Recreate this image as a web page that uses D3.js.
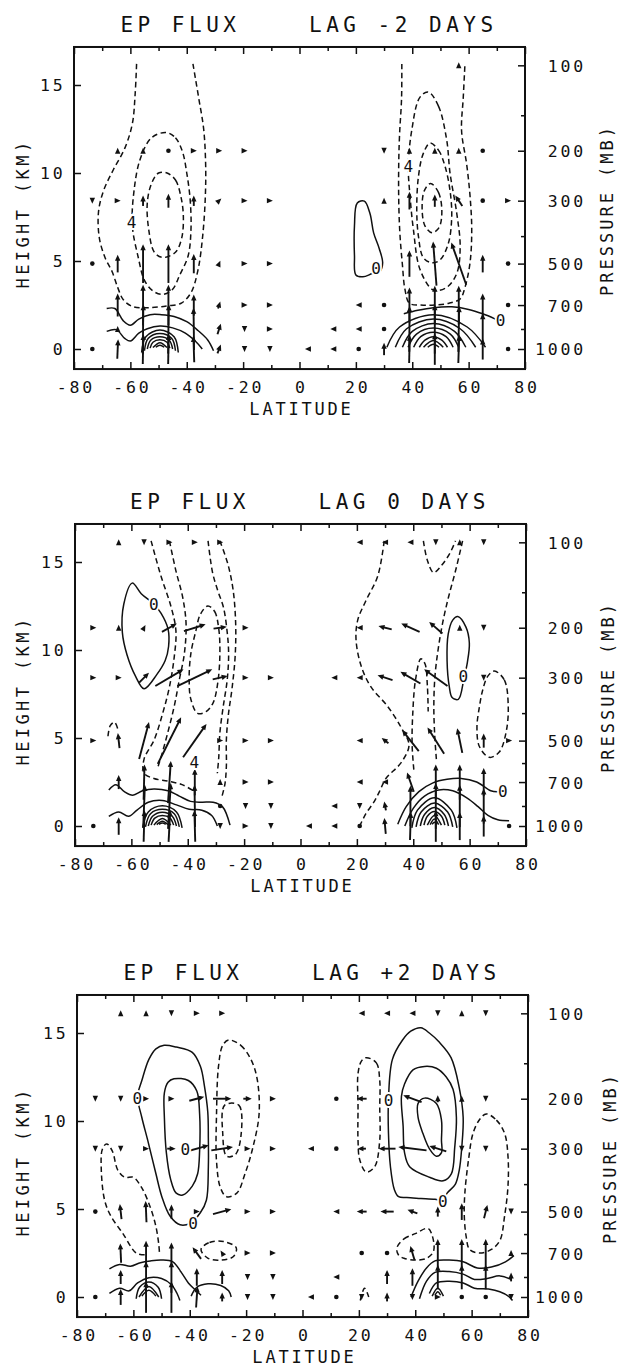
<!DOCTYPE html>
<html>
<head>
<meta charset="utf-8">
<script src="https://cdn.jsdelivr.net/npm/d3@7"></script>
<style>
  body { margin: 0; background: #fff; }
  svg text { font-family: "DejaVu Sans Mono", monospace; fill: #111; }
</style>
</head>
<body>
<div id="chart"></div>
<script>
// ---- grid arrows: [latitude, pressure (mb), horizontal comp (deg), vertical comp (km)] ----
var ARROWS_LAG_M2 = [
  [-73.5,1000,0,0],[-64.5,1000,0.3,1.1],[-55.5,1000,0.2,1.7],[-46.5,1000,0.2,1.7],[-37.5,1000,-0.3,1.5],[-28.5,1000,1.2,0.5],[-19.5,1000,0,-0.2],[-10.5,1000,0,-0.2],
  [3,1000,-0.9,0],[12,1000,-0.9,0],[21,1000,0,0],[30,1000,0,0.7],[39,1000,0.2,1.6],[48,1000,0,1.8],[56.5,1000,0.3,1.6],[65,1000,0,1.2],[74,1000,0,0],
  [-64.5,850,0,0.25],[-55.5,850,0.2,2.8],[-46.5,850,0.2,2.8],[-37.5,850,-0.2,2.4],[-28.5,850,1.2,0.6],[-19.5,850,0,-0.2],[-10.5,850,0.8,0],
  [12,850,-0.9,0],[21,850,-0.9,0],[30,850,0,0],[39,850,0.1,2.6],[48,850,0,2.8],[56.5,850,0.3,2.6],[65,850,0,1.8],
  [-64.5,700,0,1.3],[-55.5,700,0,2.3],[-46.5,700,0,2.3],[-37.5,700,0,1.2],[-28.5,700,0.8,0.4],[-19.5,700,0.8,0],[-10.5,700,0.8,0],
  [21,700,-0.8,0],[30,700,0,0],[39,700,0,2.0],[48,700,0,2.2],[56.5,700,0,2.2],[65,700,0,1.3],[74,700,0,0],
  [-73.5,500,0,0],[-64.5,500,0,1.0],[-55.5,500,0,2.2],[-46.5,500,0,2.2],[-37.5,500,0,1.1],[-28.5,500,0.8,0.3],[-19.5,500,0.8,0],[-10.5,500,0.8,0],
  [39,500,0,1.5],[48,500,-1.2,2.5],[56.5,500,-5.3,2.4],[65,500,0,1.0],[74,500,0,0],
  [-73.5,300,0,-0.15],[-64.5,300,0.7,0],[-55.5,300,0,0.6],[-46.5,300,0,0.8],[-37.5,300,0,0.6],[-28.5,300,1,0.15],[-19.5,300,0.8,0],[-10.5,300,0.8,0],
  [30,300,0,0.2],[39,300,0,1.0],[48,300,0,0.7],[56.5,300,-2.5,0.6],[65,300,0,0],[74,300,0.8,0],
  [-64.5,200,0,0.2],[-55.5,200,0,0.2],[-46.5,200,0,0],[-37.5,200,0.6,0],[-28.5,200,0.8,0],[-19.5,200,0.8,0],
  [30,200,0,-0.2],[39,200,0,0.2],[48,200,0,0.25],[56.5,200,0,0.25],[65,200,0,0],
  [56.5,100,0,0.2]
];
var ARROWS_LAG_0 = [
  [-73.5,1000,0,0],[-64.5,1000,0,1.0],[-55.5,1000,0.3,1.8],[-46.5,1000,0.6,1.8],[-37.5,1000,-0.3,1.8],[-28.5,1000,0,-0.2],[-19.5,1000,0.8,0],[-10.5,1000,0,-0.2],
  [3,1000,-0.9,0],[12,1000,-0.9,0],[21,1000,0,0],[30,1000,-0.5,0.9],[39,1000,0.3,1.6],[48,1000,0,1.8],[56.5,1000,0,1.6],[65,1000,0,1.2],[74,1000,0,0],
  [-55.5,850,0.6,2.4],[-46.5,850,1.0,2.6],[-37.5,850,-0.2,2.4],[-28.5,850,0,0],[-19.5,850,0,-0.2],[-10.5,850,0,-0.2],
  [12,850,-0.9,0],[21,850,0,-0.2],[30,850,-0.6,0.5],[39,850,0,2.3],[48,850,0,2.6],[56.5,850,0,2.4],[65,850,0,2.0],
  [-64.5,700,0,0.8],[-55.5,700,0.3,2.0],[-46.5,700,1.0,2.4],[-37.5,700,0,1.5],[-28.5,700,0,0.3],[-19.5,700,0.8,0],[-10.5,700,0.8,0],
  [21,700,-0.9,0],[30,700,-0.8,0],[39,700,-2.4,1.1],[48,700,0,2.0],[56.5,700,0,2.0],[65,700,0,1.6],
  [-73.5,500,0.7,0],[-64.5,500,-0.6,0.85],[-55.5,500,3.5,2.1],[-46.5,500,8.3,2.65],[-37.5,500,8.3,1.9],[-28.5,500,0.8,0],[-19.5,500,0.8,0],[-10.5,500,0.8,0],
  [21,500,-0.8,0],[30,500,-2.4,0.3],[39,500,-5.9,1.2],[48,500,-5.9,1.5],[56.5,500,-1.8,1.4],[65,500,0,0.8],[74,500,0.8,0],
  [-73.5,300,0.5,0],[-64.5,300,0.7,0],[-55.5,300,3.5,0.57],[-46.5,300,10,0.95],[-37.5,300,12.4,0.95],[-28.5,300,5.3,0.2],[-19.5,300,0.8,0],[-10.5,300,0.8,0],
  [12,300,-0.9,0],[21,300,-0.9,0],[30,300,-5.3,0.28],[39,300,-7.1,0.66],[48,300,-8.3,0.95],[56.5,300,-1.5,0.3],[65,300,0,-0.2],
  [-73.5,200,0.5,0],[-64.5,200,0,0.2],[-55.5,200,1,0.3],[-46.5,200,5.3,0.47],[-37.5,200,7.7,0.38],[-28.5,200,4.7,0.1],[-19.5,200,0.8,0],
  [21,200,-0.5,0],[30,200,-4.7,0.19],[39,200,-6.5,0.47],[48,200,-4.7,0.66],[56.5,200,0,0.2],[65,200,0,-0.2],
  [-64.5,100,0,0.2],[-55.5,100,0,-0.2],[-46.5,100,0.6,0],[-37.5,100,0.8,0],[-28.5,100,0.8,0],
  [21,100,-0.9,0],[30,100,-0.9,0],[39,100,-0.9,0],[48,100,0,-0.2],[56.5,100,0,0.2],[65,100,0,-0.2]
];
var ARROWS_LAG_P2 = [
  [-73.5,1000,0,0],[-64.5,1000,0,0.9],[-55.5,1000,0,1.8],[-46.5,1000,0,1.8],[-37.5,1000,0.5,1.2],[-28.5,1000,0,0.5],[-19.5,1000,0,-0.2],[-10.5,1000,0,-0.2],
  [3,1000,-0.9,0],[12,1000,0,0],[21,1000,0,-0.2],[30,1000,0,0.5],[39,1000,0,-0.3],[48,1000,0.8,0],[56.5,1000,0,0],[65,1000,0,0],[74,1000,0,-0.2],
  [-64.5,850,0,0.8],[-55.5,850,0,1.8],[-46.5,850,0,1.8],[-37.5,850,0,1.0],[-28.5,850,0,0.8],[-19.5,850,0,-0.2],[-10.5,850,0,-0.2],
  [12,850,-0.9,0],[30,850,0,0.8],[39,850,0,1.0],[48,850,0,1.4],[56.5,850,0,1.4],[65,850,0,1.4],[74,850,0,0.5],
  [-64.5,700,-0.3,1.1],[-55.5,700,0,1.4],[-46.5,700,0,1.2],[-37.5,700,-3,0.66],[-28.5,700,-0.8,0.2],[-19.5,700,0.8,0],[-10.5,700,0.8,0],
  [21,700,0,0],[30,700,0,0],[39,700,-1.5,0.8],[48,700,0,1.6],[56.5,700,0,1.6],[65,700,0,1.6],[74,700,0,0.3],
  [-73.5,500,0,0],[-64.5,500,-0.6,0.85],[-55.5,500,-0.3,1.2],[-46.5,500,0,0.8],[-37.5,500,0.8,0],[-28.5,500,6.5,0.28],[-19.5,500,0.8,0],[-10.5,500,0.8,0],
  [12,500,-0.9,0],[21,500,-3.5,0],[30,500,-4.7,0],[39,500,-3.5,0.2],[48,500,0,0.57],[56.5,500,0,0.95],[65,500,1.2,0.76],[74,500,0,-0.2],
  [-73.5,300,0,-0.2],[-64.5,300,0,-0.2],[-55.5,300,0.8,0],[-46.5,300,3,0],[-37.5,300,8.5,0.38],[-28.5,300,7.7,0.19],[-19.5,300,2,0],[-10.5,300,0.8,0],
  [3,300,-0.9,0],[12,300,0,0],[21,300,-3,0],[30,300,-6,0],[39,300,-10,0.2],[48,300,-6,0.3],[56.5,300,0,-0.2],[65,300,0,-0.2],
  [-73.5,200,0,-0.2],[-64.5,200,0,-0.2],[-55.5,200,0.8,0],[-46.5,200,0.8,0],[-37.5,200,5.3,0.23],[-28.5,200,6.5,0],[-19.5,200,3,0],[-10.5,200,0.8,0],
  [12,200,0,0],[21,200,-3.5,0],[39,200,-6.5,0.38],[48,200,0,0.4],[56.5,200,0,0.2],[65,200,0,-0.2],
  [-64.5,100,0,0.2],[-55.5,100,0,0.2],[-46.5,100,0,-0.2],[-37.5,100,0.8,0],[-28.5,100,0.8,0],
  [21,100,-0.9,0],[30,100,-0.9,0],[39,100,-0.9,0],[48,100,0,-0.2],[56.5,100,0,0.2],[65,100,0,-0.2]
];

// ---- contours: lists of [latitude, height km] ----
var LAG_M2_SOLID_LOOPS = [
  [[20.5,8.3],[23,8.4],[25,7.7],[26.3,6.6],[28.3,5.7],[29.5,4.9],[28.5,4.4],[26,4.3],[22.5,4.1],[20,4.2],[19.5,5.3],[19.5,7.0]]
];
var LAG_M2_SOLID_LINES = [
  [[-68.4,2.3],[-65.5,2.3],[-62.5,1.6],[-60,1.35],[-57,1.7],[-53,1.95],[-49,1.95],[-44.5,1.85],[-40,1.55],[-36,1.05],[-32.5,0.5],[-30.5,-0.1]],
  [[-68.4,1.0],[-65,1.1],[-62,0.6],[-60,0.45],[-57,0.9],[-54,1.15],[-49.5,1.3],[-45,1.2],[-40.5,0.9],[-37,0.45],[-34.5,0.0]],
  [[-56,-0.2],[-54.5,0.7],[-49.5,1.08],[-44.5,0.7],[-43,-0.2]],
  [[-55,-0.1],[-53.7,0.6],[-49.5,0.88],[-45.3,0.6],[-44,-0.1]],
  [[-54,0],[-52.8,0.5],[-49.5,0.7],[-46.2,0.5],[-45,0]],
  [[-53,0.05],[-52,0.38],[-49.5,0.52],[-47,0.38],[-46,0.05]],
  [[-52,0.08],[-49.5,0.36],[-47,0.08]],
  [[-51,0.1],[-49.5,0.22],[-48,0.1]],
  [[37,2.0],[42,2.2],[47.5,2.35],[54,2.4],[60,2.25],[65,2.0],[69.5,1.7]],
  [[31,0.1],[35.5,1.25],[47.5,1.95],[59.5,1.25],[66,0.1]],
  [[34,0.1],[38,1.15],[47.5,1.7],[57,1.15],[62.5,0.1]],
  [[36.5,0.1],[40,1.0],[47.5,1.45],[55,1.0],[59,0.1]],
  [[38.5,0.1],[41.5,0.85],[47.5,1.2],[53.5,0.85],[56.5,0.1]],
  [[40.5,0.1],[43,0.7],[47.5,0.95],[52,0.7],[54.5,0.1]],
  [[42.5,0.1],[44.5,0.5],[47.5,0.7],[50.5,0.5],[52.5,0.1]],
  [[44,0.1],[47.5,0.48],[51,0.1]],
  [[45.5,0.1],[47.5,0.27],[49.5,0.1]]
];
var LAG_M2_DASHED_LOOPS = [
  [[-47.3,12.3],[-44,12.0],[-41.5,11.2],[-40,10],[-38.8,8.5],[-38.5,6.8],[-39.5,5.3],[-42.5,4.2],[-45,3.4],[-48.5,3.1],[-52,3.3],[-55,3.9],[-57.2,5.2],[-59.3,7.0],[-58.7,9.0],[-56.5,10.8],[-52.5,12.0]],
  [[-47,10],[-44,9.6],[-42,8.6],[-41.2,7.5],[-41.8,6.3],[-44,5.5],[-48.5,5.2],[-51.5,5.5],[-53.5,6.8],[-54,8.3],[-52.5,9.4],[-50,10]],
  [[45.7,14.6],[49.3,13.8],[52.2,11.9],[53.4,10],[55.8,7.7],[57,5.8],[55.8,4.3],[52.2,3.5],[47.5,3.35],[42.8,4.5],[40.4,6.8],[39.2,8.7],[38.6,10.4],[39.8,12.4],[42.7,14.3]],
  [[46.3,11.7],[49.3,11.3],[51.6,10.4],[53.4,9.0],[54,7.5],[52.8,6.0],[49.8,5.05],[46.9,4.9],[43.9,5.2],[42.2,6.4],[41.6,7.9],[42.2,9.8],[43.9,11.1]],
  [[46.5,9.4],[49.3,8.9],[50.5,7.8],[49.5,6.9],[47,6.6],[44.5,7.0],[43.5,8.0],[44.3,9.0]]
];
var LAG_M2_DASHED_LINES = [
  [[-57.8,16.2],[-58.3,14.5],[-59.3,12.8],[-62,11.4],[-66,10.2],[-69.5,9.0],[-71.3,7.8],[-71,6.3],[-69,5.2],[-66.5,4.4],[-64.5,3.5],[-62.5,2.8],[-59,2.4],[-53,2.35],[-47,2.45],[-42,2.6],[-38.5,3.2],[-36,4.5],[-34.3,6.5],[-33.4,8.7],[-33.3,10.5],[-34,12.5],[-35.8,14.3],[-37.8,16.2]],
  [[36.3,16.2],[36.2,14.2],[35.5,12.2],[35.2,10.5],[35.2,8.5],[35.6,6.6],[36.5,4.8],[37.4,3.4],[39,2.6],[43,2.5],[48,2.5],[53,2.6],[57,2.85],[58.7,3.5],[60.5,4.9],[61.1,6.8],[60.5,8.7],[59.3,10.5],[57.5,12.4],[58.1,14.3],[58.7,16.2]]
];
var LAG_M2_LABELS = [[-59.6,7.2,"4"],[38.6,10.4,"4"],[27.2,4.6,"0"],[71.3,1.65,"0"]];

var LAG_0_SOLID_LOOPS = [
  [[-59.7,13.8],[-56.5,13.2],[-52,12.6],[-49.5,12.1],[-47,11.2],[-46.8,10.2],[-48,9.4],[-51,8.6],[-55.5,7.8],[-58.5,8.5],[-61.5,9.7],[-63.2,11],[-62.7,12.6]],
  [[55.8,11.9],[58.7,11.3],[59.9,10.4],[59.2,9.3],[58,8.4],[56,7.2],[53.8,7.3],[52.8,7.9],[52,9.4],[52.4,10.9],[54,11.7]]
];
var LAG_0_SOLID_LINES = [
  [[-68,2.05],[-65.5,2.35],[-62.5,1.95],[-59.5,1.75],[-56,2.0],[-52,2.1],[-47,2.0],[-43,1.7],[-39,1.4],[-35,1.35],[-31,1.35],[-27.7,1.1],[-25,0.05]],
  [[-68,0.55],[-64.5,0.8],[-61,0.55],[-58,0.9],[-54,1.35],[-49,1.45],[-44,1.2],[-39.5,0.95],[-35,0.9],[-31.5,0.6],[-29.5,0.0]],
  [[-56,-0.1],[-54,0.8],[-49,1.15],[-44,0.8],[-42,-0.1]],
  [[-55,-0.05],[-53.2,0.7],[-49,0.95],[-44.8,0.7],[-43,-0.05]],
  [[-54,0],[-52.5,0.55],[-49,0.78],[-45.5,0.55],[-44,0]],
  [[-53,0.05],[-51.7,0.45],[-49,0.6],[-46.3,0.45],[-45,0.05]],
  [[-52,0.05],[-49,0.42],[-46,0.05]],
  [[-51,0.08],[-49,0.27],[-47,0.08]],
  [[-50.2,0.1],[-49,0.17],[-47.8,0.1]],
  [[34.5,0.1],[37.5,1.1],[42,1.95],[47,2.45],[52,2.65],[57,2.7],[62.5,2.5],[67.5,2.0],[70,1.95]],
  [[37,0.0],[40,1.0],[44,1.7],[49,2.05],[54,2.0],[59,1.6],[63,1.1],[66.5,0.6],[70,0.35],[74,0.3]],
  [[39.5,-0.1],[41.5,0.9],[47.5,1.6],[53.5,0.9],[55.5,-0.1]],
  [[41,-0.05],[42.8,0.8],[47.5,1.3],[52.2,0.8],[54,-0.05]],
  [[42.5,0],[44,0.65],[47.5,1.05],[51,0.65],[52.5,0]],
  [[43.8,0.05],[45,0.55],[47.5,0.82],[50,0.55],[51.2,0.05]],
  [[45,0.05],[47.5,0.6],[50,0.05]],
  [[46,0.08],[47.5,0.4],[49,0.08]],
  [[46.7,0.1],[47.5,0.22],[48.3,0.1]]
];
var LAG_0_DASHED_LOOPS = [
  [[-32.9,12.5],[-30.5,12.2],[-29,11.2],[-28.6,9.8],[-29.3,8.2],[-31,7.0],[-33.5,6.5],[-36.5,6.4],[-38.9,7.2],[-39.5,8.3],[-38.9,9.8],[-37.1,11.1],[-35.6,12.0]],
  [[68.8,8.8],[72.3,8.3],[73.7,6.8],[72.9,5.3],[70.5,4.2],[67,3.9],[63.5,4.5],[62.6,5.6],[63.5,6.8],[64.6,7.7],[66.4,8.5]]
];
var LAG_0_DASHED_LINES = [
  [[-53,16.2],[-49.5,14.2],[-46,12.5],[-44.2,11.1],[-44.8,9.6],[-46.5,7.9],[-48.9,6.4],[-51.9,4.9],[-55.5,3.8],[-55.5,3.0],[-52,2.7],[-47,2.55],[-42,2.35],[-38,2.0]],
  [[-46.5,16.2],[-44.2,14.5],[-41.8,13.0],[-40.6,11.5],[-41.2,9.8],[-43,8.3],[-44.8,6.8],[-47.1,5.3],[-49.5,3.9],[-50.5,3.4]],
  [[-32.8,16.2],[-31.2,14.4],[-29.4,13.4],[-27.3,12.4],[-26,11],[-25.5,9.8],[-26,8.3],[-27.4,6.8],[-28.6,5.3],[-29,3.9],[-29.5,3.0]],
  [[-28.6,16.2],[-25.8,14.9],[-23.9,13.4],[-23.0,11.5],[-23.2,9.6],[-24.3,7.8],[-25.6,6.3],[-26.3,4.9],[-26.3,3.4],[-26.8,2.4],[-28,1.6]],
  [[-68.3,5.1],[-67.5,5.7],[-66,5.9],[-64.8,5.5]],
  [[29.7,16.2],[27.4,14.2],[23.2,12.8],[20.3,11.7],[19.7,10.6],[21.5,9.1],[25,7.9],[30.9,6.8],[35.7,5.6],[38.5,4.6],[35.7,3.6],[30.3,2.7],[28,1.95],[26.2,1.4],[23.2,0.7],[21,0]],
  [[43.6,16.2],[45,15.1],[47.2,14.4],[50,14.8],[53,15.5],[55,16.2]],
  [[57.5,16.2],[55,14.5],[52.5,13],[50.5,11.6],[48.8,10],[47.7,8.5],[47.3,6.8],[47.6,5.2],[48.2,3.8]],
  [[40.2,3.2],[39.6,4.6],[39.8,6.3],[40.8,8.3],[42.7,9.5],[44.2,9.2],[45,8.0],[45.3,6.5]]
];
var LAG_0_LABELS = [[-52,12.6,"0"],[-37.7,3.6,"4"],[57.8,8.5,"0"],[71.8,2.0,"0"]];

var LAG_P2_SOLID_LOOPS = [
  [[-49.1,14.3],[-44.8,14.2],[-39.1,13.9],[-36.2,13.1],[-34.8,12.0],[-33.6,10.5],[-33.4,9.0],[-33.4,7.4],[-34.1,5.5],[-36.2,4.8],[-39.8,4.2],[-43.4,4.1],[-47,4.6],[-49.9,5.7],[-52,7.0],[-54.9,8.9],[-57,10.2],[-58.5,11.4],[-57,12.3],[-54.5,13.5],[-52,14.1]],
  [[-45.6,12.4],[-40.5,12.3],[-37.5,11.7],[-36.5,10.4],[-36.5,8.3],[-37.2,7.0],[-39.1,6.3],[-42.5,5.8],[-44.8,5.9],[-46.8,6.7],[-48.3,8.2],[-49,10.2],[-49,11.6],[-47.7,12.2]],
  [[42,15.3],[45,15.0],[48.4,14.5],[52.7,13.6],[55.6,11.9],[57,10.2],[56.5,8.5],[55.6,7.2],[54.2,6.4],[51.3,5.9],[49.8,5.5],[47,5.55],[42,5.6],[37,5.65],[34.1,5.7],[32.6,6.1],[31.2,7.4],[30.5,9.3],[30.5,11.2],[31.9,13.5],[35.5,14.6],[38.4,15.1]],
  [[43.3,13.1],[47.5,13.0],[51,12.5],[53.4,11.8],[54.6,10.2],[54,8.5],[52.8,7.0],[49.9,6.6],[45.1,6.8],[38,7.4],[36.2,8.2],[35.7,9.7],[35.1,11.4],[36.2,12.1],[39.2,12.9]],
  [[43.3,11.3],[47.5,11.0],[49.3,10.05],[49.3,8.9],[49.3,8.2],[47.5,8.0],[45.1,8.4],[42.7,9.3],[41,10.2],[41,11.0]]
];
var LAG_P2_SOLID_LINES = [
  [[-68.5,1.6],[-64.9,1.85],[-61,1.75],[-57.5,1.95],[-54,2.05],[-50,2.1],[-46,2.0],[-43,1.4],[-40.5,0.8],[-38,0.4],[-36,0.1]],
  [[-39.5,0.05],[-37.5,0.55],[-33.5,0.75],[-29,0.65],[-26.2,0.35],[-25.3,0.0]],
  [[-68.5,0.2],[-64.9,0.5],[-61.5,0.35],[-58.5,0.8],[-54.5,1.1],[-50,1.05],[-46.5,0.7],[-44.5,0.2],[-43.5,-0.2]],
  [[-59,-0.1],[-57.8,0.55],[-54.5,0.85],[-51.2,0.55],[-50,-0.1]],
  [[-58,0],[-54.5,0.6],[-51,0]],
  [[-57,0.05],[-54.5,0.38],[-52,0.05]],
  [[38.5,0.0],[41,0.9],[44,1.65],[47,2.05],[52,2.1],[57,2.0],[62,1.65],[67,1.7],[72,2.0],[75,2.35]],
  [[41.5,-0.1],[44,0.9],[47,1.4],[52,1.45],[57,1.3],[61,1.0],[65.5,1.05],[70,1.2],[74,1.0]],
  [[45,0.2],[47.5,0.8],[52,0.9],[57,0.8],[61,0.5],[66,0.45],[70,0.3],[73,0.05],[74.5,-0.2]],
  [[46,0.05],[48,0.5],[50,0.05]],
  [[47,0.1],[48,0.3],[49,0.1]]
];
var LAG_P2_DASHED_LOOPS = [
  [[-26.2,14.6],[-21.9,14.3],[-18.3,13.5],[-16.1,12.4],[-15.4,10.4],[-17.6,8.5],[-20.4,7.0],[-23.3,5.9],[-26.9,5.7],[-29.1,6.2],[-30.5,7.7],[-30.5,10.4],[-29.8,13.1],[-28.3,14.3]],
  [[-27.6,10.9],[-22.6,10.9],[-21.8,9.2],[-23.8,8.1],[-26.9,8.0],[-28.3,9.3]],
  [[-36,2.7],[-33,3.1],[-28,3.15],[-23.5,2.8],[-24.5,2.3],[-29,2.1],[-33.5,2.2]],
  [[22.6,13.6],[26.2,13.3],[27.4,12.3],[27.4,10.8],[27.4,8.9],[25.6,7.4],[22.6,7.1],[20.3,7.8],[19.7,8.9],[19.7,10.8],[19.7,12.7],[20.9,13.4]],
  [[65.2,10.4],[68.8,10.05],[71.7,9.3],[72.9,8.0],[72.9,6.3],[71.7,4.6],[70,3.2],[67,2.7],[62.9,2.5],[59.3,2.7],[58.1,3.4],[57.4,4.6],[57.6,5.9],[58.9,7.8],[60.5,9.3],[62.9,10.1]],
  [[33.5,2.8],[36,3.3],[40,3.6],[44.5,3.9],[46,3.5],[46.5,2.6],[44,2.2],[40,2.1],[36,2.2],[34,2.4]]
];
var LAG_P2_DASHED_LINES = [
  [[-56,2.4],[-59,2.5],[-63.7,3.6],[-68,4.6],[-70.2,5.5],[-71.4,7.3],[-71,8.4],[-69.5,8.7],[-67.5,8.3],[-65.5,7.2],[-63,6.8],[-60,6.8],[-57,6.2],[-54,5.1],[-52,4.0],[-51,3.0],[-50.7,2.4]],
  [[20.5,-0.2],[22,0.5],[23.5,0.0]]
];
var LAG_P2_LABELS = [[-58.6,11.3,"0"],[-38.8,4.2,"0"],[-41.6,8.4,"0"],[30.5,11.2,"0"],[49.8,5.45,"0"]];

var PANEL_TITLES = ["EP FLUX    LAG -2 DAYS", "EP FLUX    LAG 0 DAYS", "EP FLUX    LAG +2 DAYS"];
var LAT_TICKS = [-80, -60, -40, -20, 0, 20, 40, 60, 80];
var KM_TICKS = [0, 5, 10, 15];
var PRESSURE_TICKS = [100, 200, 300, 500, 700, 1000];
var PRESSURE_MINOR = [150, 400, 600, 850];

// ---- layout ----
var WIDTH = 629, HEIGHT = 1369;
var X_LEFT = 74, X_RIGHT = 525;
var PX_PER_KM = 17.6;
var KM_MIN = -1.14, KM_MAX = 17.16;
var SCALE_HEIGHT = 7; // km, log-pressure height

var PANELS = [
  {id: 0, title: PANEL_TITLES[0], y0: 349, dx: 0, arrows: ARROWS_LAG_M2,
   solidLoops: LAG_M2_SOLID_LOOPS, solidLines: LAG_M2_SOLID_LINES,
   dashedLoops: LAG_M2_DASHED_LOOPS, dashedLines: LAG_M2_DASHED_LINES, labels: LAG_M2_LABELS},
  {id: 1, title: PANEL_TITLES[1], y0: 826, dx: 1, arrows: ARROWS_LAG_0,
   solidLoops: LAG_0_SOLID_LOOPS, solidLines: LAG_0_SOLID_LINES,
   dashedLoops: LAG_0_DASHED_LOOPS, dashedLines: LAG_0_DASHED_LINES, labels: LAG_0_LABELS},
  {id: 2, title: PANEL_TITLES[2], y0: 1297, dx: 3, arrows: ARROWS_LAG_P2,
   solidLoops: LAG_P2_SOLID_LOOPS, solidLines: LAG_P2_SOLID_LINES,
   dashedLoops: LAG_P2_DASHED_LOOPS, dashedLines: LAG_P2_DASHED_LINES, labels: LAG_P2_LABELS}
];

var svg = d3.select("#chart").append("svg")
    .attr("width", WIDTH)
    .attr("height", HEIGHT);

PANELS.forEach(drawPanel);

function drawPanel(cfg) {
  var x = d3.scaleLinear().domain([-80, 80]).range([X_LEFT + cfg.dx, X_RIGHT + cfg.dx]);
  var y = d3.scaleLinear().domain([KM_MIN, KM_MAX])
      .range([cfg.y0 - KM_MIN * PX_PER_KM, cfg.y0 - KM_MAX * PX_PER_KM]);
  // log-pressure axis: z = H ln(1000/p)
  var pres = d3.scaleLog().domain([1000, 100]).range([y(0), y(SCALE_HEIGHT * Math.LN10)]);

  var left = x(-80), right = x(80), top = y(KM_MAX), bottom = y(KM_MIN);
  var g = svg.append("g");

  var clipId = "clip" + cfg.id;
  g.append("clipPath").attr("id", clipId).append("rect")
      .attr("x", left).attr("y", top).attr("width", right - left).attr("height", bottom - top);
  var plot = g.append("g").attr("clip-path", "url(#" + clipId + ")");

  var openLine = d3.line().x(function(d) { return x(d[0]); }).y(function(d) { return y(d[1]); })
      .curve(d3.curveCatmullRom.alpha(0.5));
  var closedLine = d3.line().x(function(d) { return x(d[0]); }).y(function(d) { return y(d[1]); })
      .curve(d3.curveCatmullRomClosed.alpha(0.5));

  function contours(data, gen, dashed) {
    plot.append("g").selectAll("path").data(data).join("path")
        .attr("d", gen)
        .attr("fill", "none")
        .attr("stroke", "#111")
        .attr("stroke-width", 1.5)
        .attr("stroke-dasharray", dashed ? "5.5,3.5" : null);
  }
  contours(cfg.solidLines, openLine, false);
  contours(cfg.solidLoops, closedLine, false);
  contours(cfg.dashedLines, openLine, true);
  contours(cfg.dashedLoops, closedLine, true);

  // EP flux arrows, centred on their grid point
  var arrows = plot.append("g");
  cfg.arrows.forEach(function(d) {
    var cx = x(d[0]), cy = pres(d[1]);
    var z = y.invert(cy);
    var tail = [x(d[0] - d[2] / 2), y(z - d[3] / 2)];
    var tip = [x(d[0] + d[2] / 2), y(z + d[3] / 2)];
    var vx = tip[0] - tail[0], vy = tip[1] - tail[1];
    var len = Math.hypot(vx, vy);
    if (len < 1) {
      arrows.append("circle").attr("cx", cx).attr("cy", cy).attr("r", 2.3).attr("fill", "#111");
      return;
    }
    var ux = vx / len, uy = vy / len;
    var headLen = 6, halfW = 2.7;
    var headTip = tip;
    if (len < 7) {
      headTip = [cx + ux * headLen / 2, cy + uy * headLen / 2];
    } else {
      arrows.append("line")
          .attr("x1", tail[0]).attr("y1", tail[1])
          .attr("x2", tip[0] - ux * 3).attr("y2", tip[1] - uy * 3)
          .attr("stroke", "#111").attr("stroke-width", 1.9);
    }
    var bx = headTip[0] - ux * headLen, by = headTip[1] - uy * headLen;
    var pts = [headTip, [bx - uy * halfW, by + ux * halfW], [bx + uy * halfW, by - ux * halfW]];
    arrows.append("path").attr("d", "M" + pts.join("L") + "Z").attr("fill", "#111");
  });

  // contour labels with a white gap around them
  plot.append("g").selectAll("text").data(cfg.labels).join("text")
      .attr("x", function(d) { return x(d[0]); })
      .attr("y", function(d) { return y(d[1]); })
      .attr("dy", "0.36em")
      .attr("text-anchor", "middle")
      .attr("font-size", 16)
      .attr("stroke", "#fff").attr("stroke-width", 4)
      .attr("paint-order", "stroke")
      .text(function(d) { return d[2]; });

  // frame
  g.append("rect")
      .attr("x", left).attr("y", top).attr("width", right - left).attr("height", bottom - top)
      .attr("fill", "none").attr("stroke", "#111").attr("stroke-width", 2);

  function styleAxis(sel, size) {
    sel.select(".domain").remove();
    sel.selectAll("line").attr("stroke", "#111").attr("stroke-width", 1.5);
    sel.attr("font-size", size).attr("font-family", null);
    sel.selectAll("text").style("letter-spacing", "2.8px").attr("fill", "#111");
  }

  // bottom axis
  var minorLat = d3.range(-70, 80, 20);
  g.append("g").attr("transform", "translate(0," + bottom + ")")
      .call(d3.axisBottom(x).tickValues(LAT_TICKS).tickSize(-7).tickFormat(function(d) { return String(d); }))
      .call(styleAxis, 16.5)
      .call(function(s) { s.selectAll("text").attr("y", 24).attr("dy", null).attr("x", 1.4); });
  g.append("g").attr("transform", "translate(0," + bottom + ")")
      .call(d3.axisBottom(x).tickValues(minorLat).tickSize(-4).tickFormat(""))
      .call(styleAxis, 16.5);
  // top axis
  g.append("g").attr("transform", "translate(0," + top + ")")
      .call(d3.axisTop(x).tickValues(LAT_TICKS).tickSize(-7).tickFormat(""))
      .call(styleAxis, 16.5);
  g.append("g").attr("transform", "translate(0," + top + ")")
      .call(d3.axisTop(x).tickValues(minorLat).tickSize(-4).tickFormat(""))
      .call(styleAxis, 16.5);
  // left axis (km)
  g.append("g").attr("transform", "translate(" + left + ",0)")
      .call(d3.axisLeft(y).tickValues(KM_TICKS).tickSize(-7))
      .call(styleAxis, 16.5)
      .call(function(s) { s.selectAll("text").attr("x", -8.5).attr("dy", "0.36em"); });
  // right axis (pressure)
  g.append("g").attr("transform", "translate(" + right + ",0)")
      .call(d3.axisRight(pres).tickValues(PRESSURE_TICKS).tickSize(-7).tickFormat(d3.format("d")))
      .call(styleAxis, 16.5)
      .call(function(s) { s.selectAll("text").attr("x", 61 - cfg.dx).attr("text-anchor", "end").attr("dy", "0.36em"); });
  g.append("g").attr("transform", "translate(" + right + ",0)")
      .call(d3.axisRight(pres).tickValues(PRESSURE_MINOR).tickSize(-4).tickFormat(""))
      .call(styleAxis, 16.5);

  // titles
  g.append("text")
      .attr("x", 309 + cfg.dx).attr("y", top - 15)
      .attr("text-anchor", "middle")
      .attr("font-size", 21)
      .style("letter-spacing", "4.5px")
      .style("white-space", "pre")
      .text(cfg.title);

  g.append("text")
      .attr("x", (left + right) / 2 + 2).attr("y", cfg.y0 + 66)
      .attr("text-anchor", "middle")
      .attr("font-size", 17)
      .style("letter-spacing", "2.8px")
      .text("LATITUDE");

  g.append("text")
      .attr("transform", "translate(29," + y(7.7) + ") rotate(-90)")
      .attr("text-anchor", "middle")
      .attr("font-size", 17)
      .style("letter-spacing", "3.4px")
      .style("white-space", "pre")
      .text("HEIGHT (KM)");

  g.append("text")
      .attr("transform", "translate(" + (613 + cfg.dx) + "," + y(7.9) + ") rotate(-90)")
      .attr("text-anchor", "middle")
      .attr("font-size", 17)
      .style("letter-spacing", "3px")
      .style("white-space", "pre")
      .text("PRESSURE (MB)");
}
</script>
</body>
</html>
